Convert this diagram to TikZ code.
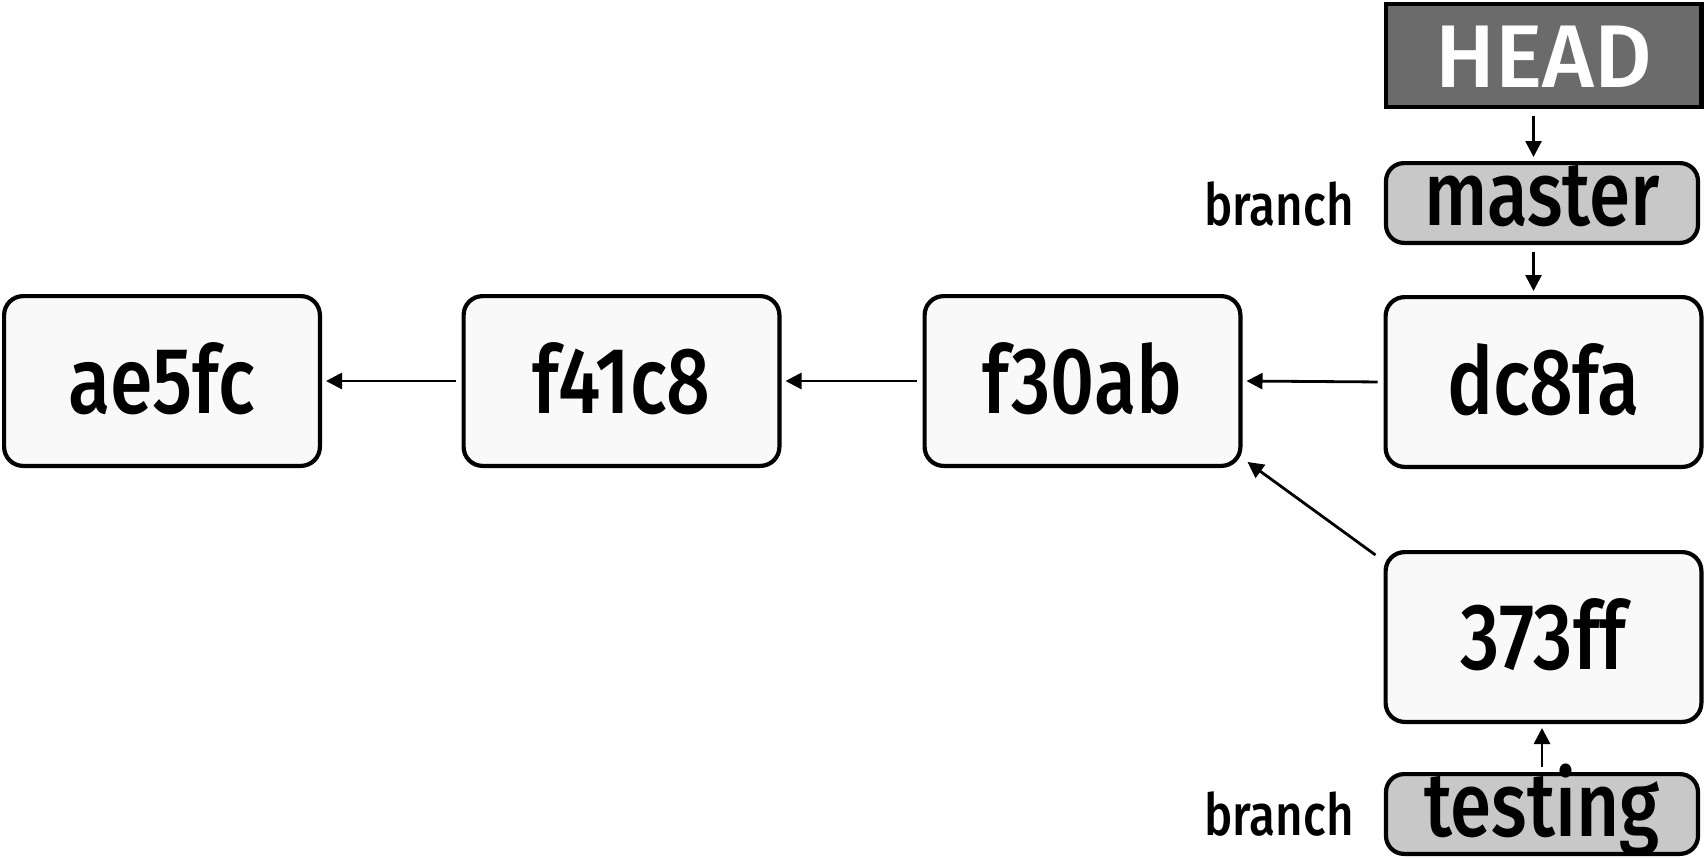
\documentclass[tikz,border=0pt]{standalone}
\usepackage{fontspec}
\setmainfont{Fira Sans Medium}
\newfontfamily\condfont{Fira Sans Medium}[FakeStretch=0.82]
\usetikzlibrary{arrows.meta}
\definecolor{boxfill}{HTML}{F9F9F9}
\definecolor{branchfill}{HTML}{C8C8C8}
\definecolor{headfill}{HTML}{6B6B6B}
\tikzset{
  commit/.style={draw=black, line width=4.2pt, fill=boxfill, rounded corners=19pt,
    minimum width=315.8pt, minimum height=169.8pt, inner sep=0pt,
    text height=64pt, text depth=0pt, font=\condfont\fontsize{94}{100}\selectfont},
  branchbox/.style={draw=black, line width=4.2pt, fill=branchfill, rounded corners=18pt,
    minimum width=312pt, minimum height=79.8pt, inner sep=0pt,
    text height=60pt, text depth=16pt, font=\condfont\fontsize{91}{100}\selectfont},
  headbox/.style={draw=black, line width=4.2pt, fill=headfill, text=white,
    minimum width=315.8pt, minimum height=102.8pt, inner sep=0pt,
    text height=63pt, text depth=0pt, font=\fontsize{89}{100}\selectfont},
  lbl/.style={inner sep=0pt, anchor=base east, font=\condfont\fontsize{58}{60}\selectfont},
  arr/.style={line width=2.8pt, -{Triangle[length=16pt,width=16pt]}}
}
\begin{document}
\begin{tikzpicture}[x=1pt,y=-1pt]
\useasboundingbox (0,0) rectangle (1705,859);
\node[commit] (ae5fc) at (162,381) {ae5fc};
\node[commit] (f41c8) at (621.5,381) {f41c8};
\node[commit] (f30ab) at (1082.5,381) {f30ab};
\node[commit] (dc8fa) at (1543.5,382) {dc8fa};
\node[commit] (c373) at (1543.5,637) {373ff};
\node[headbox] (head) at (1543.5,55.5) {HEAD};
\node[branchbox] (master) at (1542,203) {master};
\node[branchbox] (testing) at (1542,814) {testing};
\node[lbl] (lblm) at (1354,225) {branch};
\node[lbl] (lblt) at (1354,835) {branch};
\draw[arr, shorten <=6pt, shorten >=4pt] (f41c8.west) -- (ae5fc.east);
\draw[arr, shorten <=6pt, shorten >=4pt] (f30ab.west) -- (f41c8.east);
\draw[arr, shorten <=6pt, shorten >=4pt] (dc8fa.west) -- (f30ab.east);
\draw[arr, shorten <=7pt, shorten >=4pt] ([xshift=-10pt]head.south) -- ([xshift=-8.5pt]master.north);
\draw[arr, shorten <=7pt, shorten >=4pt] ([xshift=-8.5pt]master.south) -- ([xshift=-10pt]dc8fa.north);
\draw[arr, shorten <=5pt, shorten >=4pt] (testing.north) -- ([xshift=-1.5pt]c373.south);
\draw[arr] ([shift={(-8,5)}]c373.north west) -- ([shift={(5,-6)}]f30ab.south east);
\end{tikzpicture}
\end{document}
